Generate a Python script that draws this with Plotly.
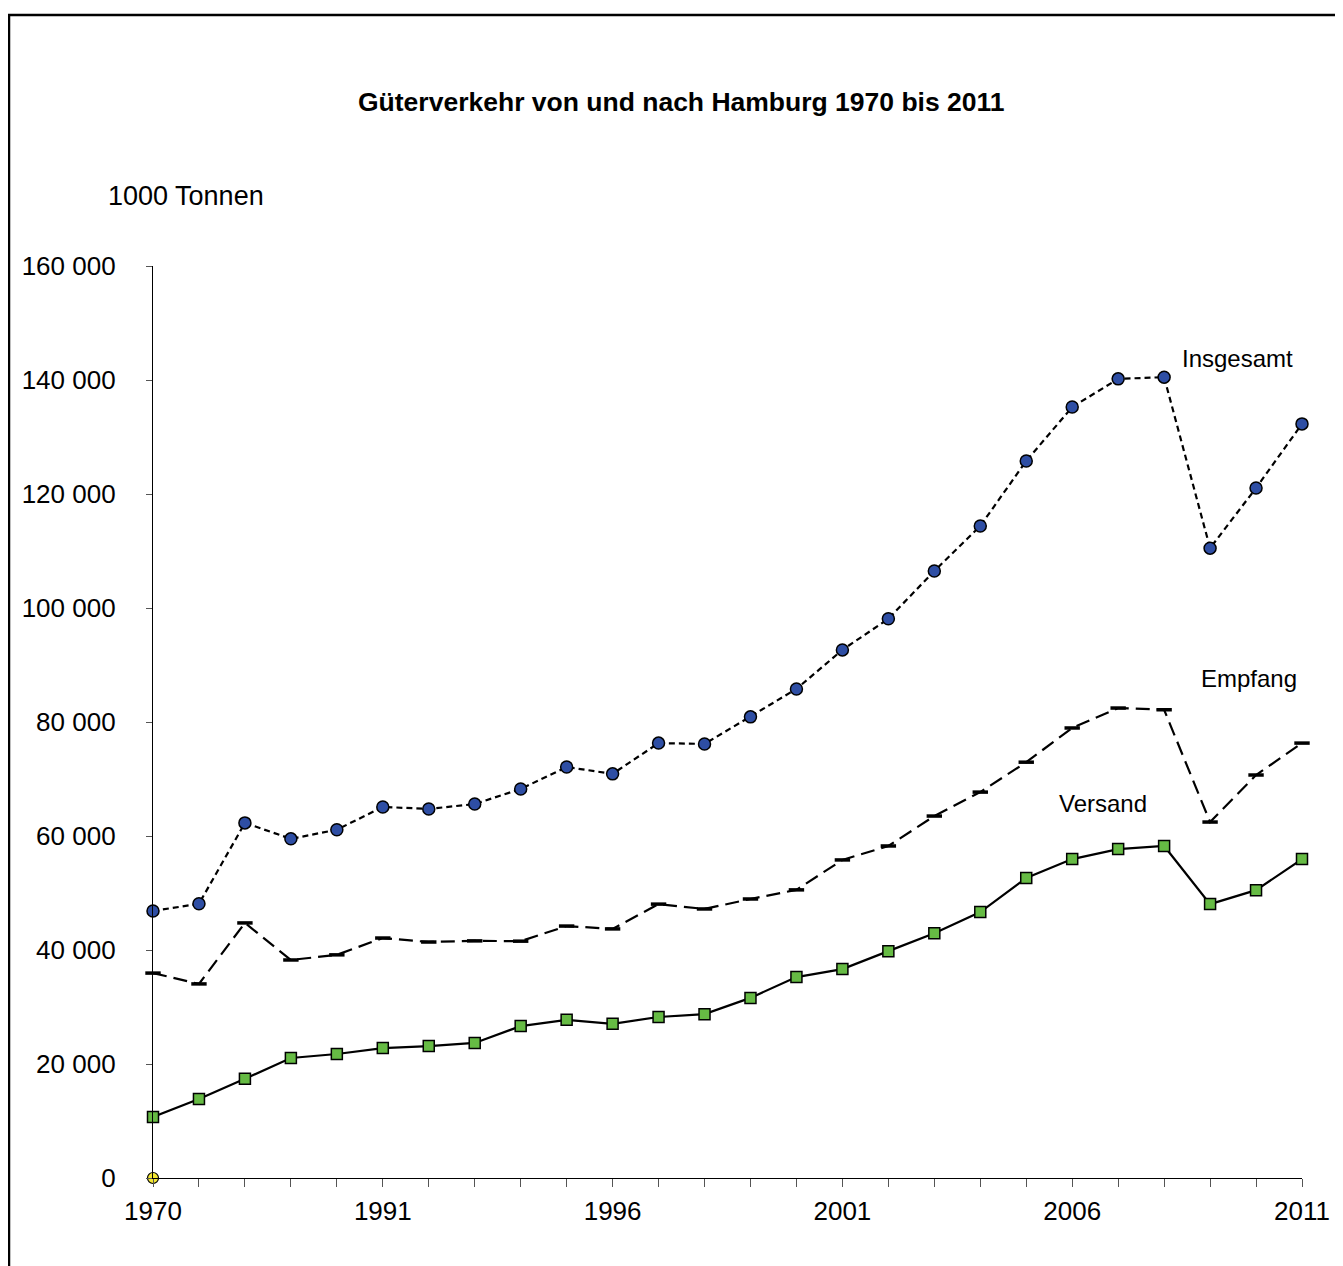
import plotly.graph_objects as go

years = ["1970", "1975", "1980", "1985", "1990"] + [str(y) for y in range(1991, 2012)]
shown_labels = ["1970", "1991", "1996", "2001", "2006", "2011"]

insgesamt = [46850, 48100, 62300, 59500, 61100, 65100, 64750, 65600, 68250, 72100,
             70900, 76300, 76150, 80900, 85800, 92650, 98100, 106500, 114400, 125800,
             135250, 140200, 140500, 110500, 121050, 132300]
empfang = [35950, 34050, 44750, 38250, 39150, 42100, 41400, 41600, 41550, 44200,
           43700, 48050, 47200, 48950, 50550, 55800, 58250, 63500, 67700, 72950,
           78950, 82450, 82150, 62450, 70700, 76300]
versand = [10700, 13850, 17400, 21050, 21750, 22800, 23150, 23700, 26650, 27750,
           27050, 28250, 28750, 31600, 35250, 36650, 39800, 42950, 46650, 52650,
           55950, 57700, 58250, 48050, 50500, 55950]

FONT = "Liberation Sans, Arial, sans-serif"

# page has an 8px body margin: figure origin is at (8, 8) in the screenshot
OX, OY = 8, 8
PL, PR, PT, PB = 153, 1302, 266, 1178  # plot area in screenshot pixels
W, H = 1335, 1258


def px(x):
    return (x - PL) / (PR - PL)


def py(y):
    return (PB - y) / (PB - PT)


fig = go.Figure()
fig.add_trace(go.Scatter(
    x=years, y=insgesamt, mode="lines+markers", name="Insgesamt",
    line=dict(color="black", width=2.2, dash="6px,4px"),
    marker=dict(symbol="circle", size=12, color="#2E4EA4", line=dict(color="black", width=1.5)),
    cliponaxis=False))
fig.add_trace(go.Scatter(
    x=years, y=empfang, mode="lines+markers", name="Empfang",
    line=dict(color="black", width=2.2, dash="14px,7px"),
    marker=dict(symbol="line-ew", size=11, color="black", line=dict(color="black", width=3.5)),
    cliponaxis=False))
fig.add_trace(go.Scatter(
    x=years, y=versand, mode="lines+markers", name="Versand",
    line=dict(color="black", width=2.2),
    marker=dict(symbol="square", size=11, color="#66BB44", line=dict(color="black", width=1.5)),
    cliponaxis=False))
fig.add_trace(go.Scatter(
    x=[years[0]], y=[0], mode="markers", name="",
    marker=dict(symbol="circle", size=11, color="#F2E633", line=dict(color="black", width=1.2)),
    cliponaxis=False))

ticktext = [y if y in shown_labels else "" for y in years]

fig.update_layout(
    width=W, height=H,
    margin=dict(l=PL - OX, r=W - (PR - OX), t=PT - OY, b=H - (PB - OY)),
    paper_bgcolor="white", plot_bgcolor="white",
    showlegend=False,
    font=dict(family=FONT, size=24, color="black"),
    xaxis=dict(type="category", range=[0, len(years) - 1], tickvals=years, ticktext=ticktext,
               showline=True, linecolor="black", linewidth=1.3, ticks="outside", ticklen=8,
               tickcolor="#555555", tickwidth=1, showgrid=False, zeroline=False,
               tickfont=dict(size=26), ticklabelstandoff=2),
    yaxis=dict(range=[0, 160000], tickvals=list(range(0, 160001, 20000)),
               ticktext=["0", "20 000", "40 000", "60 000", "80 000", "100 000", "120 000", "140 000", "160 000"],
               showline=True, linecolor="black", linewidth=1.3, ticks="outside", ticklen=6,
               tickcolor="#555555", tickwidth=1, showgrid=False, zeroline=False,
               tickfont=dict(size=26), ticklabelstandoff=25),
)

fig.add_annotation(text="<b>Güterverkehr von und nach Hamburg 1970 bis 2011</b>",
                   xref="paper", yref="paper", x=px(681), y=py(102),
                   showarrow=False, font=dict(size=26.5), xanchor="center", yanchor="middle")
fig.add_annotation(text="1000 Tonnen", xref="paper", yref="paper",
                   x=px(106), y=py(196),
                   showarrow=False, font=dict(size=27), xanchor="left", yanchor="middle")
fig.add_annotation(text="Insgesamt", xref="paper", yref="paper",
                   x=px(1237), y=py(358),
                   showarrow=False, font=dict(size=24), xanchor="center", yanchor="middle")
fig.add_annotation(text="Empfang", xref="paper", yref="paper",
                   x=px(1249), y=py(678),
                   showarrow=False, font=dict(size=24), xanchor="center", yanchor="middle")
fig.add_annotation(text="Versand", xref="paper", yref="paper",
                   x=px(1103), y=py(803),
                   showarrow=False, font=dict(size=24), xanchor="center", yanchor="middle")

fig.add_shape(type="rect", xref="paper", yref="paper",
              x0=px(9), x1=px(1360),
              y0=py(1290), y1=py(15),
              line=dict(color="black", width=2.5), fillcolor="rgba(0,0,0,0)", layer="below")

fig.write_html("out.html")
